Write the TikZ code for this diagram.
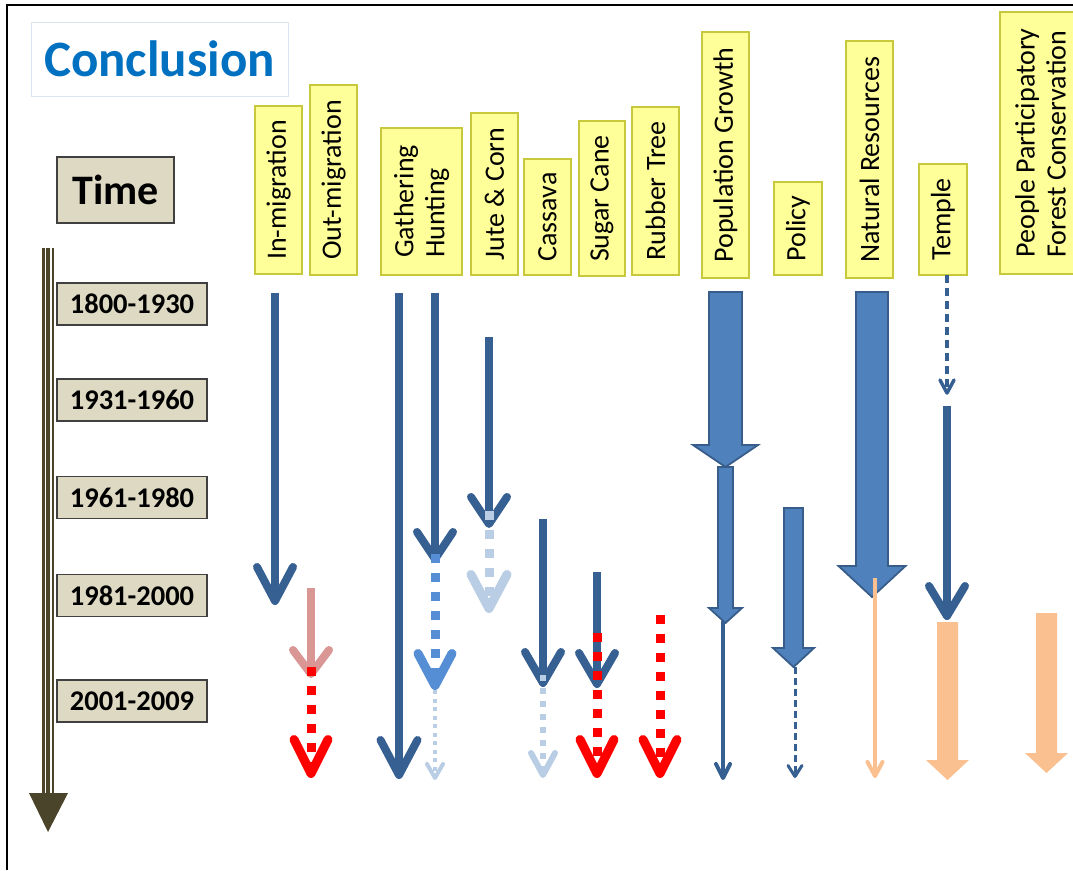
\documentclass[tikz,border=0pt]{standalone}
\usepackage{fontspec}
\setmainfont{Carlito}
\definecolor{dblue}{HTML}{376092}
\definecolor{bfill}{HTML}{4F81BD}
\definecolor{bdraw}{HTML}{385D8A}
\definecolor{mblue}{HTML}{558ED5}
\definecolor{lblue}{HTML}{B9CDE5}
\definecolor{pinkred}{HTML}{D99694}
\definecolor{pureRed}{HTML}{FF0000}
\definecolor{peach}{HTML}{FAC090}
\definecolor{yfill}{HTML}{FFFF99}
\definecolor{ybord}{HTML}{C8C83C}
\definecolor{tanbox}{HTML}{DDD9C3}
\definecolor{boxline}{HTML}{404040}
\definecolor{olive}{HTML}{4A452A}
\definecolor{titleblue}{HTML}{0070C0}
\definecolor{titleframe}{HTML}{DBE5F1}

% straight shaft plus an open chevron head (style, x, y start, tip y, half width, head length)
\newcommand\linearrow[6]{%
  \draw[#1] (#2,#3) -- (#2,#4);
  \draw[#1, solid, line cap=round, line join=round]
    (#2-#5,#4-#6) -- (#2,#4) -- (#2+#5,#4-#6);}
% filled block arrow (style, centre x, top, shaft half width, head base, head half width, tip)
\newcommand\fatarrow[7]{%
  \path[#1] (#2-#4,#3) -- (#2+#4,#3) -- (#2+#4,#5) -- (#2+#6,#5) -- (#2,#7)
    -- (#2-#6,#5) -- (#2-#4,#5) -- cycle;}

\begin{document}
\begin{tikzpicture}[x=1pt,y=-1pt,
  lab/.style={draw=ybord, fill=yfill, line width=1.5pt, rotate=90, inner sep=0pt,
    font=\fontsize{28}{31}\selectfont, align=left},
  datebox/.style={draw=boxline, fill=tanbox, line width=1.2pt, minimum width=150pt,
    minimum height=42pt, inner sep=0pt, font=\bfseries\fontsize{28.5}{31}\selectfont},
  thick line/.style={draw=dblue, line width=8pt},
  red dots/.style={draw=pureRed, line width=9pt, dash pattern=on 9pt off 10pt},
  block/.style={fill=bfill, draw=bdraw, line width=1.8pt, line join=miter},
  peach block/.style={fill=peach}]
\useasboundingbox (0,0) rectangle (1073,870);
\clip (0,0) rectangle (1073,870);
\fill[white] (0,0) rectangle (1073,870);

% page frame
\draw[line width=2pt] (7,870) -- (7,5) -- (1073,5);

% title
\node[draw=titleframe, line width=1pt, minimum width=257pt, minimum height=74pt,
  inner sep=0pt, text=titleblue, font=\bfseries\fontsize{51}{56}\selectfont]
  (title) at (159.5,59) {Conclusion};

% time axis
\node[draw=boxline, fill=tanbox, line width=1.2pt, minimum width=117pt,
  minimum height=66pt, inner sep=0pt, font=\bfseries\fontsize{42}{46}\selectfont]
  (time) at (115.5,190) {Time};
\draw[olive, line width=12pt] (48,248) -- (48,794);
\draw[white!85!tanbox, line width=7pt] (48,248) -- (48,794);
\draw[olive, line width=4pt] (48,248) -- (48,794);
\fill[olive] (29,793) -- (68,793) -- (48,832) -- cycle;

\node[datebox] (d1) at (132,304) {1800-1930};
\node[datebox] (d2) at (132,400) {1931-1960};
\node[datebox] (d3) at (132,497.5) {1961-1980};
\node[datebox] (d4) at (132,595.5) {1981-2000};
\node[datebox] (d5) at (132,701) {2001-2009};

% factor labels
\node[lab, minimum width=168pt, minimum height=47pt] (inmig) at (278.5,190) {In-migration};
\node[lab, minimum width=190pt, minimum height=47pt] (outmig) at (333.5,180) {Out-migration};
\node[lab, minimum width=147pt, minimum height=81pt] (gath) at (421.5,201.5) {Gathering\\Hunting};
\node[lab, minimum width=162pt, minimum height=47pt] (jute) at (494.5,194) {Jute \& Corn};
\node[lab, minimum width=116pt, minimum height=47pt] (cass) at (547.5,217) {Cassava};
\node[lab, minimum width=155pt, minimum height=46pt] (sugar) at (602,198.5) {Sugar Cane};
\node[lab, minimum width=168pt, minimum height=47pt] (rubber) at (655.5,191) {Rubber Tree};
\node[lab, minimum width=246pt, minimum height=47pt] (popg) at (725.5,155) {Population Growth};
\node[lab, minimum width=93pt, minimum height=48pt] (policy) at (798,228.5) {Policy};
\node[lab, minimum width=237pt, minimum height=47pt] (natres) at (869.5,159.5) {Natural Resources};
\node[lab, minimum width=111pt, minimum height=48pt] (temple) at (943,219.5) {Temple};
\node[lab, minimum width=262pt, minimum height=81pt] (people) at (1040.5,143) {People Participatory\\Forest Conservation};

% in-migration
\linearrow{thick line}{275}{293}{601}{18}{34}
% out-migration
\linearrow{draw=pinkred, line width=8pt}{311}{588}{674}{18}{24}
\linearrow{red dots}{311}{667}{773.5}{17}{34}
% gathering
\linearrow{thick line}{399}{293}{775}{18.5}{35}
% hunting
\linearrow{thick line}{435}{293}{559}{18}{27}
\linearrow{draw=mblue, line width=9pt, dash pattern=on 8.5pt off 10.5pt}{435}{554}{685.5}{17}{32}
\linearrow{draw=lblue, line width=4pt, dash pattern=on 4pt off 4.5pt}{435}{690}{778}{8}{14}
% jute and corn
\linearrow{thick line}{489}{337}{524}{18}{27}
\linearrow{draw=lblue, line width=9pt, dash pattern=on 9pt off 10pt}{489}{511}{608.5}{18}{34}
% cassava
\linearrow{thick line}{543}{519}{683}{18}{31}
\linearrow{draw=lblue, line width=6pt, dash pattern=on 6pt off 7pt}{543}{675}{775}{12}{22}
% sugar cane
\linearrow{thick line}{597}{572}{684}{18}{31}
\linearrow{red dots}{597}{633}{773.5}{17}{34}
% rubber tree
\linearrow{red dots}{660}{615}{773.5}{17}{34}
% population growth
\fatarrow{block}{725.5}{292}{16.5}{445}{32.5}{467}
\fatarrow{block}{725.5}{467}{7.5}{608}{16.5}{623}
\linearrow{draw=dblue, line width=4pt}{723}{621}{778}{7}{14}
% policy
\fatarrow{block}{793.5}{508}{9.5}{648}{20.5}{667}
\linearrow{draw=dblue, line width=3pt, dash pattern=on 7pt off 4pt}{795}{667}{776.5}{7}{11}
% natural resources
\fatarrow{block}{872}{292}{16}{566}{33.5}{597}
\linearrow{draw=peach, line width=4pt}{875}{578}{776}{7.5}{14}
% temple
\linearrow{draw=dblue, line width=3.5pt, dash pattern=on 8pt off 5pt}{947}{275}{393}{7}{13}
\linearrow{thick line}{947}{406}{616}{18}{30}
\fatarrow{peach block}{947.5}{622}{10.5}{760}{21.5}{780}
% people participatory forest conservation
\fatarrow{peach block}{1046.5}{613}{10.5}{753}{21.5}{773}
\end{tikzpicture}
\end{document}
